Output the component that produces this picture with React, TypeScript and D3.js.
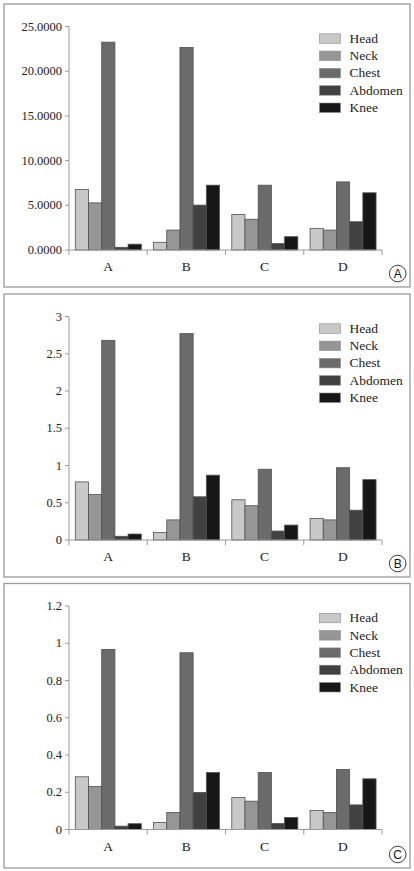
import React from "react";
import * as d3 from "d3";

const categories = ["A", "B", "C", "D"];
const seriesNames = ["Head", "Neck", "Chest", "Abdomen", "Knee"];
const seriesColors = ["#c8c8c8", "#969696", "#6b6b6b", "#414141", "#171717"];

// values per panel: [category][series]
const panelAValues = [
  [6.77, 5.27, 23.25, 0.3, 0.65],
  [0.86, 2.23, 22.66, 5.02, 7.25],
  [3.98, 3.44, 7.25, 0.72, 1.49],
  [2.42, 2.23, 7.62, 3.16, 6.4],
];
const panelBValues = [
  [0.78, 0.61, 2.68, 0.05, 0.08],
  [0.1, 0.27, 2.77, 0.58, 0.87],
  [0.54, 0.46, 0.95, 0.12, 0.2],
  [0.29, 0.27, 0.97, 0.4, 0.81],
];
const panelCValues = [
  [0.283, 0.231, 0.967, 0.018, 0.031],
  [0.038, 0.091, 0.949, 0.199, 0.306],
  [0.172, 0.152, 0.306, 0.032, 0.064],
  [0.102, 0.091, 0.322, 0.132, 0.272],
];

const panelATicks = [0, 5, 10, 15, 20, 25];
const panelBTicks = [0, 0.5, 1, 1.5, 2, 2.5, 3];
const panelCTicks = [0, 0.2, 0.4, 0.6, 0.8, 1, 1.2];

const panelLabels = ["A", "B", "C"];

const SERIF = "'Liberation Serif', 'Times New Roman', serif";

type PanelProps = {
  top: number;
  height: number;
  values: number[][];
  ticks: number[];
  fmt: (v: number) => string;
  label: string;
};

function Panel({ top, height, values, ticks, fmt, label }: PanelProps) {
  const left = 4;
  const right = 410;
  const axisX0 = 69;
  const axisX1 = 382;
  const yZero = top + 246;
  const yTop = top + 22.5;
  const y = d3.scaleLinear().domain([0, ticks[ticks.length - 1]]).range([yZero, yTop]);
  const x0 = d3.scaleBand<string>().domain(categories).range([axisX0, axisX1]).padding(0);
  const x1 = d3.scaleBand<string>().domain(seriesNames).range([6.3, 72.3]).padding(0);
  const axisColor = "#9a9a9a";
  const bottom = top + height;
  return (
    <g>
      <rect x={left} y={top} width={right - left} height={height} fill="white" stroke="#9a9a9a" strokeWidth={1.3} />
      {/* y axis */}
      <line x1={axisX0} x2={axisX0} y1={yZero} y2={yTop} stroke={axisColor} strokeWidth={1} />
      {ticks.map((t) => (
        <g key={t}>
          <line x1={axisX0 - 4} x2={axisX0} y1={y(t)} y2={y(t)} stroke={axisColor} strokeWidth={1} />
          <text x={axisX0 - 7} y={y(t)} dy="0.33em" textAnchor="end" fontFamily={SERIF} fontSize={12.5} fill="#222">
            {fmt(t)}
          </text>
        </g>
      ))}
      {/* bars */}
      {categories.map((c, ci) => (
        <g key={c}>
          {seriesNames.map((s, si) => {
            const v = values[ci][si];
            const bx = (x0(c) as number) + (x1(s) as number);
            return (
              <rect
                key={s}
                x={bx}
                y={y(v)}
                width={x1.bandwidth()}
                height={yZero - y(v)}
                fill={seriesColors[si]}
                stroke="#505050"
                strokeWidth={0.8}
              />
            );
          })}
        </g>
      ))}
      {/* x axis */}
      <line x1={axisX0} x2={axisX1} y1={yZero} y2={yZero} stroke={axisColor} strokeWidth={1} />
      {[...categories.map((c) => x0(c) as number), axisX1].map((tx, i) => (
        <line key={i} x1={tx} x2={tx} y1={yZero} y2={yZero + 5} stroke={axisColor} strokeWidth={1} />
      ))}
      {categories.map((c) => (
        <text
          key={c}
          x={(x0(c) as number) + x0.bandwidth() / 2}
          y={yZero + 21}
          textAnchor="middle"
          fontFamily={SERIF}
          fontSize={13.5}
          fill="#222"
        >
          {c}
        </text>
      ))}
      {/* legend */}
      {seriesNames.map((s, si) => (
        <g key={s} transform={`translate(319.5, ${top + 29.8 + si * 17.3})`}>
          <rect x={0} y={0} width={21} height={9.5} fill={seriesColors[si]} stroke="#8a8a8a" strokeWidth={0.6} />
          <text x={30} y={9} fontFamily={SERIF} fontSize={13.5} fill="#222">
            {s}
          </text>
        </g>
      ))}
      {/* panel label */}
      <circle cx={397.7} cy={bottom - 13.5} r={8.3} fill="white" stroke="#222" strokeWidth={0.9} />
      <text
        x={397.7}
        y={bottom - 13.5}
        dy="0.36em"
        textAnchor="middle"
        fontFamily="'Liberation Sans', Arial, sans-serif"
        fontSize={12}
        fill="#111"
      >
        {label}
      </text>
    </g>
  );
}

export default function App() {
  const fmtA = (v: number) => d3.format(".4f")(v);
  const fmtB = (v: number) => String(v);
  return (
    <svg
      width={414}
      height={871}
      style={{ position: "absolute", left: 0, top: 0, background: "white" }}
    >
      <rect x={0} y={0} width={414} height={871} fill="white" />
      <Panel top={4} height={283} values={panelAValues} ticks={panelATicks} fmt={fmtA} label={panelLabels[0]} />
      <Panel top={294} height={283} values={panelBValues} ticks={panelBTicks} fmt={fmtB} label={panelLabels[1]} />
      <Panel top={583.5} height={284.5} values={panelCValues} ticks={panelCTicks} fmt={fmtB} label={panelLabels[2]} />
    </svg>
  );
}
